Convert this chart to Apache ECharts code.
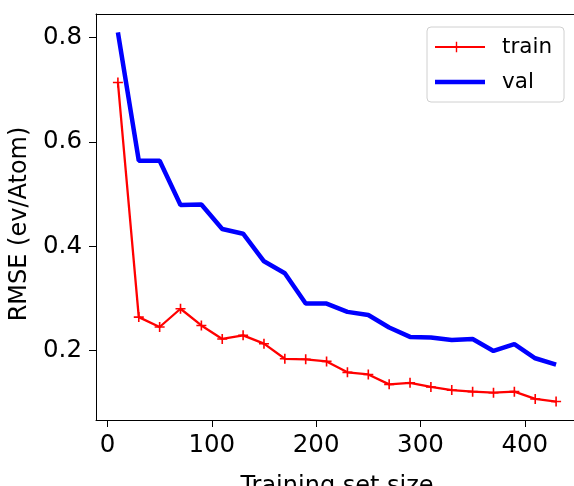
<!DOCTYPE html>
<html>
<head>
<meta charset="utf-8">
<script src="https://cdn.jsdelivr.net/npm/echarts@6/dist/echarts.min.js"></script>
<style>html,body{margin:0;padding:0;background:#fff}#c{width:574px;height:486px}</style>
</head>
<body>
<div id="c"></div>
<script>
const sizes = [10,30,50,70,90,110,130,150,170,190,210,230,250,270,290,310,330,350,370,390,410,430];
const train = [0.714,0.264,0.245,0.280,0.248,0.222,0.229,0.213,0.184,0.183,0.179,0.158,0.154,0.135,0.138,0.130,0.124,0.121,0.119,0.121,0.107,0.102];
const val = [0.81,0.564,0.564,0.479,0.480,0.433,0.424,0.371,0.348,0.290,0.290,0.274,0.268,0.244,0.226,0.225,0.220,0.222,0.199,0.212,0.185,0.173];
const xTicks = [0,100,200,300,400];
const yTicks = [0.2,0.4,0.6,0.8];
const seriesNames = ['train','val'];

const FONT = 'DejaVu Sans';
const plus = 'path://M4.2,0H5.8V4.2H10V5.8H5.8V10H4.2V5.8H0V4.2H4.2Z';
const legendPlusLine = 'path://M0,5.1H20.8V0.8H22.2V5.1H50V6.9H22.2V11.2H20.8V6.9H0Z';
const legendThickLine = 'path://M0,0L0.01,0L0,0.01ZM0,3.7H50V8.3H0ZM0,12L0.01,12L0,11.99Z';
const XMIN = -11, XMAX = 451, YMIN = 0.0666, YMAX = 0.8454;
const chart = echarts.init(document.getElementById('c'), null, {renderer:'canvas'});
chart.setOption({
  animation:false,
  backgroundColor:'#fff',
  textStyle:{fontFamily:FONT},
  grid:{left:96,top:14,right:-4,bottom:66,containLabel:false,outerBoundsMode:'none'},
  legend:{
    orient:'vertical', left:427, top:27,
    backgroundColor:'#fff', borderColor:'#d0d0d0', borderWidth:1, borderRadius:4,
    padding:[8,12,8,8], itemWidth:50, itemHeight:12, itemGap:11,
    textStyle:{fontFamily:FONT,fontSize:21.5,color:'#000',lineHeight:24,padding:[0,0,0,12]},
    data:[{name:seriesNames[0],icon:legendPlusLine},{name:seriesNames[1],icon:legendThickLine}]
  },
  xAxis:[{
    type:'value', min:XMIN, max:XMAX,
    name:'Training set size', nameLocation:'middle', nameGap:55,
    nameTextStyle:{fontFamily:FONT,fontSize:24,color:'#000'},
    axisLine:{show:true,onZero:false,lineStyle:{color:'#000',width:1}},
    axisTick:{show:true,length:7,customValues:xTicks,lineStyle:{color:'#000'}},
    axisLabel:{customValues:xTicks,fontFamily:FONT,fontSize:24.5,color:'#000',margin:13},
    splitLine:{show:false}
  },{
    type:'value', min:XMIN, max:XMAX, position:'top',
    axisLine:{show:true,onZero:false,lineStyle:{color:'#000',width:1}},
    axisTick:{show:false}, axisLabel:{show:false}, splitLine:{show:false}
  }],
  yAxis:{
    type:'value', min:YMIN, max:YMAX,
    name:'RMSE (ev/Atom)', nameLocation:'middle', nameGap:64, nameRotate:90,
    nameTextStyle:{fontFamily:FONT,fontSize:24,color:'#000',padding:[0,14,0,0]},
    axisLine:{show:true,onZero:false,lineStyle:{color:'#000',width:1}},
    axisTick:{show:true,length:7,customValues:yTicks,lineStyle:{color:'#000'}},
    axisLabel:{customValues:yTicks,fontFamily:FONT,fontSize:24.5,color:'#000',margin:14,
      formatter:v=>Number(v).toFixed(1)},
    splitLine:{show:false}
  },
  series:[
    {name:seriesNames[0],type:'line',data:sizes.map((x,i)=>[x,train[i]]),
     color:'#ff0000',lineStyle:{color:'#ff0000',width:2.3},
     symbol:plus,symbolSize:10,showSymbol:true,showAllSymbol:true,
     itemStyle:{color:'#ff0000'},z:3},
    {name:seriesNames[1],type:'line',data:sizes.map((x,i)=>[x,val[i]]),
     color:'#0000ff',lineStyle:{color:'#0000ff',width:4.5},
     symbol:'none',itemStyle:{color:'#0000ff'},z:2}
  ]
});
</script>
</body>
</html>
